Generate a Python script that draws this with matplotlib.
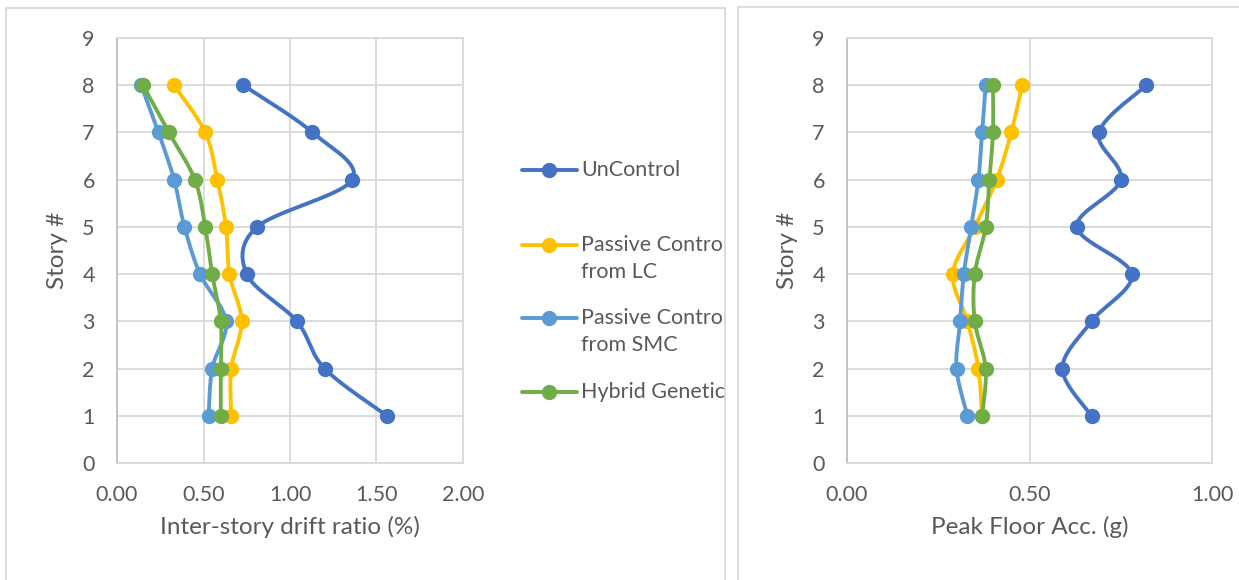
import numpy as np
import matplotlib.pyplot as plt
from matplotlib.lines import Line2D
from matplotlib.patches import Rectangle

stories = [8, 7, 6, 5, 4, 3, 2, 1]

# inter-story drift ratio (%)
drift_uncontrol = [0.73, 1.13, 1.36, 0.81, 0.75, 1.04, 1.20, 1.56]
drift_passive_lc = [0.33, 0.51, 0.58, 0.63, 0.65, 0.72, 0.66, 0.66]
drift_passive_smc = [0.14, 0.24, 0.33, 0.39, 0.48, 0.63, 0.55, 0.53]
drift_hybrid = [0.15, 0.30, 0.45, 0.51, 0.55, 0.60, 0.60, 0.60]

# peak floor acceleration (g)
acc_uncontrol = [0.82, 0.69, 0.75, 0.63, 0.78, 0.67, 0.59, 0.67]
acc_passive_lc = [0.48, 0.45, 0.41, 0.35, 0.29, 0.33, 0.36, 0.37]
acc_passive_smc = [0.38, 0.37, 0.36, 0.34, 0.32, 0.31, 0.30, 0.33]
acc_hybrid = [0.40, 0.40, 0.39, 0.38, 0.35, 0.35, 0.38, 0.37]

labels = ["UnControl", "Passive Contro\nfrom LC", "Passive Contro\nfrom SMC", "Hybrid Genetic"]
colors = ["#4472C4", "#FFC000", "#5B9BD5", "#70AD47"]

TXT = "#595959"
GRID = "#D9D9D9"
FONT = "Lato"


def smooth_line(ax, xs, ys, n=30):
    # Catmull-Rom through the points, worked out in pixel space
    pts = ax.transData.transform(np.column_stack([xs, ys]))
    p = np.vstack([pts[0], pts, pts[-1]])
    out = []
    t = np.linspace(0, 1, n)[:, None]
    for i in range(1, len(p) - 2):
        p0, p1, p2, p3 = p[i - 1], p[i], p[i + 1], p[i + 2]
        seg = 0.5 * ((2 * p1) + (-p0 + p2) * t + (2 * p0 - 5 * p1 + 4 * p2 - p3) * t ** 2
                     + (-p0 + 3 * p1 - 3 * p2 + p3) * t ** 3)
        out.append(seg)
    out = np.vstack(out)
    return ax.transData.inverted().transform(out)


def setup(ax, xmax, xticks, xlabel):
    ax.set_xlim(0, xmax)
    ax.set_ylim(0, 9)
    ax.set_xticks(xticks)
    ax.set_yticks(range(10))
    ax.set_xticklabels([f"{v:.2f}" for v in xticks], family=FONT, fontsize=15.5, color=TXT)
    ax.set_yticklabels([str(v) for v in range(10)], family=FONT, fontsize=15.5, color=TXT)
    ax.tick_params(axis="x", length=0, pad=16)
    ax.tick_params(axis="y", length=0, pad=16)
    ax.grid(True, color=GRID, lw=1.3)
    ax.set_axisbelow(True)
    for s in ax.spines.values():
        s.set_color(GRID)
        s.set_linewidth(1.3)
    ax.spines["left"].set_color("#BFBFBF")
    ax.set_xlabel(xlabel, family=FONT, fontsize=17.5, color=TXT, labelpad=8)
    ax.set_ylabel("Story #", family=FONT, fontsize=17.5, color=TXT, labelpad=10)


def draw(ax, series):
    for vals, c in zip(series, colors):
        sm = smooth_line(ax, vals, stories)
        ax.plot(sm[:, 0], sm[:, 1], color=c, lw=2.8, solid_capstyle="round", zorder=3)
        ax.plot(vals, stories, "o", color=c, ms=10, zorder=4)


fig = plt.figure(figsize=(12.39, 5.8), dpi=100)

# chart frames
fig.add_artist(Rectangle((6 / 1239, -0.01), 719 / 1239, 1 - 8 / 580 + 0.01,
                         transform=fig.transFigure, fill=False, ec=GRID, lw=1.3))
fig.add_artist(Rectangle((738 / 1239, -0.01), 0.5, 1 - 7 / 580 + 0.01,
                         transform=fig.transFigure, fill=False, ec=GRID, lw=1.3))

ax1 = fig.add_axes([117 / 1239, 1 - 463 / 580, 346 / 1239, 425 / 580])
ax2 = fig.add_axes([847 / 1239, 1 - 463 / 580, 365 / 1239, 425 / 580])

setup(ax1, 2.0, [0.0, 0.5, 1.0, 1.5, 2.0], "Inter-story drift ratio (%)")
setup(ax2, 1.0, [0.0, 0.5, 1.0], "Peak Floor Acc. (g)")

draw(ax1, [drift_uncontrol, drift_passive_lc, drift_passive_smc, drift_hybrid])
draw(ax2, [acc_uncontrol, acc_passive_lc, acc_passive_smc, acc_hybrid])

# legend between the two charts
legend_y = [170, 245, 318, 392]
for lab, c, yp in zip(labels, colors, legend_y):
    fy = 1 - yp / 580
    fig.add_artist(Line2D([522 / 1239, 577 / 1239], [fy, fy], transform=fig.transFigure,
                          color=c, lw=2.8, solid_capstyle="round"))
    fig.add_artist(Line2D([549 / 1239], [fy], transform=fig.transFigure,
                          color=c, marker="o", ms=10))
    fig.text(581 / 1239, fy + 10 / 580, lab, family=FONT, fontsize=15.5, color=TXT,
             va="top", ha="left", linespacing=1.42)

fig.savefig("out.png", dpi=100)
